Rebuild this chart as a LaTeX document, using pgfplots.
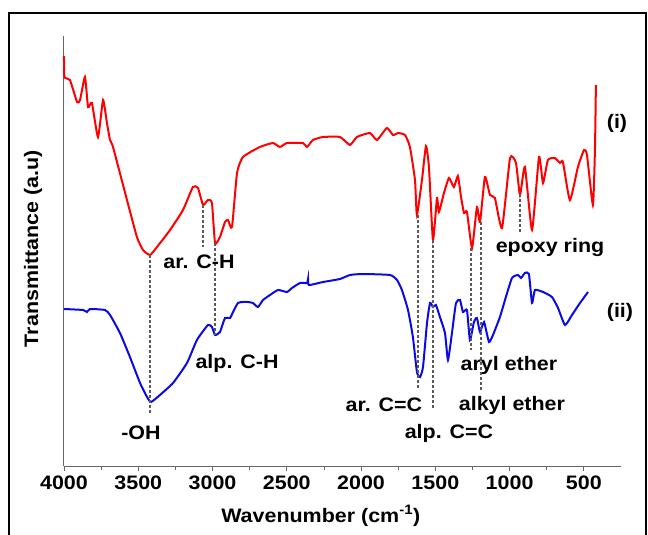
\documentclass[border=0pt]{standalone}
\usepackage{pgfplots}
\pgfplotsset{compat=1.18}
\usepackage{fontspec}
\setmainfont{Liberation Sans}[FakeStretch=1.1]
\definecolor{specred}{RGB}{255,0,0}
\definecolor{specblue}{RGB}{10,10,230}
\definecolor{dashgray}{RGB}{90,90,90}
\begin{document}
\begin{tikzpicture}
\path[use as bounding box] (0,0) rectangle (648bp,535bp);
\draw[line width=1.2bp] (9bp,0) -- (9bp,522bp) -- (646bp,522bp) -- (646bp,0);
\begin{axis}[
  at={(64bp,69bp)}, anchor=south west,
  scale only axis, width=557bp, height=430bp,
  xmin=250, xmax=4000, ymin=0, ymax=430,
  x dir=reverse,
  axis x line*=bottom, axis y line*=left,
  axis line style={draw=black!60, line width=1bp},
  ytick=\empty,
  xtick={500,1000,...,4000},
  minor xtick={750,1250,...,3750},
  tick align=outside, tick pos=left,
  major tick length=5bp, minor tick length=4bp,
  tick style={black!60, line width=0.8bp},
  /pgf/number format/assume math mode=true,
  /pgf/number format/1000 sep={},
  xticklabel style={font=\bfseries\fontsize{19.5bp}{22bp}\selectfont, yshift=-1bp},
  xlabel={Wavenumber (cm\textsuperscript{-1})},
  xlabel style={font=\bfseries\fontsize{19.5bp}{22bp}\selectfont, at={(axis description cs:0.461,-0.116)}, anchor=center},
  ylabel={Transmittance (a.u)},
  ylabel style={font=\bfseries\fontsize{19.5bp}{22bp}\selectfont, at={(axis description cs:-0.0557,0.505)}, anchor=center},
  clip=false,
]
\addplot[specred, line width=2bp, smooth, tension=0.3] coordinates {
(4000,410) (3997,389) (3960,386) (3912,364) (3892,366) (3859,389) (3838,359)
(3812,363) (3771,329) (3737,366) (3711,343) (3690,326) (3670,319) (3576,266)
(3509,229) (3468,216) (3421,211) (3374,219) (3286,236) (3199,256) (3132,279)
(3098,278) (3064,261) (3031,266) (3004,263) (2983,223) (2950,229) (2916,244)
(2896,246) (2869,239) (2835,293) (2795,309) (2681,319) (2593,323) (2546,319)
(2499,323) (2391,323) (2364,319) (2324,326) (2256,329) (2142,329) (2075,321)
(2028,329) (1940,333) (1893,326) (1826,338) (1785,331) (1751,333) (1704,331)
(1671,319) (1637,286) (1624,251) (1590,286) (1563,320) (1543,299) (1516,226)
(1489,268) (1476,254) (1442,273) (1408,288) (1375,279) (1348,290) (1327,269)
(1307,253) (1287,254) (1253,218) (1220,259) (1199,244) (1166,289) (1132,271)
(1099,268) (1051,238) (997,308) (957,303) (930,271) (897,299) (849,236)
(802,309) (775,283) (742,306) (695,308) (661,303) (641,304) (594,266)
(540,299) (499,316) (479,311) (439,261) (425,319) (419,381)
};
\addplot[specblue, line width=2bp, smooth, tension=0.3] coordinates {
(4000,157) (3872,156) (3845,154) (3825,157) (3724,156) (3690,151) (3623,133)
(3556,109) (3488,83) (3441,69) (3414,64) (3354,71) (3266,83) (3172,103)
(3105,126) (3031,141) (3004,139) (2983,131) (2950,134) (2916,148) (2882,148)
(2862,154) (2829,163) (2795,164) (2761,164) (2728,163) (2694,159) (2660,166)
(2613,171) (2559,176) (2499,174) (2465,178) (2411,183) (2364,183) (2357,187)
(2351,181) (2256,184) (2142,187) (2075,191) (1987,192) (1805,191) (1758,186)
(1725,176) (1684,156) (1651,129) (1624,94) (1603,89) (1583,99) (1556,143)
(1536,163) (1516,159) (1496,161) (1469,149) (1435,133) (1415,106) (1388,133)
(1361,163) (1334,166) (1314,154) (1287,156) (1267,126) (1240,144) (1220,148)
(1199,134) (1172,144) (1139,124) (1112,131) (1065,149) (1025,169) (984,188)
(944,191) (923,188) (897,193) (870,192) (849,163) (829,176) (775,174)
(715,169) (674,158) (627,141) (580,151) (526,163) (472,174)
};
\begin{scope}[dashgray, line width=1.3bp, dash pattern=on 3bp off 2bp]
\draw (axis cs:3421,211) -- (axis cs:3421,53);
\draw (axis cs:3064,261) -- (axis cs:3064,219);
\draw (axis cs:2983,223) -- (axis cs:2983,131);
\draw (axis cs:1617,251) -- (axis cs:1617,76);
\draw (axis cs:1516,226) -- (axis cs:1516,56);
\draw (axis cs:1260,218) -- (axis cs:1260,116);
\draw (axis cs:1193,244) -- (axis cs:1193,74);
\draw (axis cs:930,272) -- (axis cs:930,234);
\end{scope}
\begin{scope}[every node/.style={font=\bfseries\fontsize{19.5bp}{22bp}\selectfont, inner sep=0pt}]
\node at (axis cs:3091,204) {ar. C-H};
\node at (axis cs:2835,103) {alp. C-H};
\node at (axis cs:3482,33) {-OH};
\node at (axis cs:728,218) {epoxy ring};
\node at (axis cs:277,343) {(i)};
\node at (axis cs:257,154) {(ii)};
\node at (axis cs:1004,101) {aryl ether};
\node at (axis cs:1846,61) {ar. C=C};
\node at (axis cs:984,61) {alkyl ether};
\node at (axis cs:1408,33) {alp. C=C};
\end{scope}
\end{axis}
\end{tikzpicture}
\end{document}
